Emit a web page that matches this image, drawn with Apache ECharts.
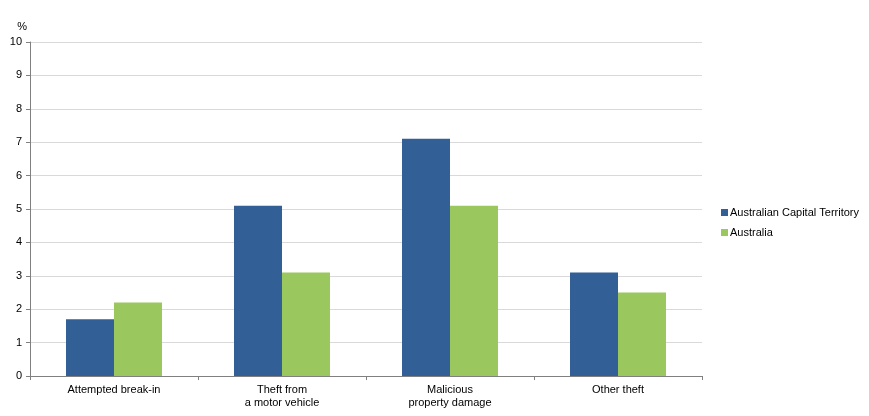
<!DOCTYPE html>
<html><head><meta charset="utf-8">
<script src="https://cdn.jsdelivr.net/npm/echarts@6/dist/echarts.min.js"></script>
<style>html,body{margin:0;padding:0;background:#fff}#c{width:869px;height:416px}</style>
</head><body><div id="c"></div>
<script>
const categories = ['Attempted break-in', 'Theft from\na motor vehicle', 'Malicious\nproperty damage', 'Other theft'];
const actValues = [1.7, 5.1, 7.1, 3.1];
const ausValues = [2.2, 3.1, 5.1, 2.5];
const seriesNames = ['Australian Capital Territory', 'Australia'];

const chart = echarts.init(document.getElementById('c'), null, {renderer: 'canvas'});
const font = 'Liberation Sans, Arial, sans-serif';
chart.setOption({
  animation: false,
  textStyle: {fontFamily: font},
  grid: {left: 30, right: 167, top: 42, bottom: 40, containLabel: false},
  legend: {
    orient: 'vertical', left: 716, top: 202, itemWidth: 7, itemHeight: 7, itemGap: 9,
    icon: 'rect',
    textStyle: {fontFamily: font, fontSize: 11, color: '#000', padding: [0, 0, 0, -3]},
    data: seriesNames
  },
  xAxis: {
    type: 'category', data: categories,
    axisLine: {lineStyle: {color: '#808080'}},
    axisTick: {show: true, alignWithLabel: false, length: 4, lineStyle: {color: '#808080'}},
    axisLabel: {fontFamily: font, fontSize: 11, color: '#000', margin: 7, lineHeight: 13},
  },
  yAxis: {
    type: 'value', min: 0, max: 10, interval: 1,
    name: '%', nameLocation: 'end', nameGap: 10,
    nameTextStyle: {fontFamily: font, fontSize: 11, color: '#000', align: 'right', padding: [0, 3, 0, 0]},
    axisLine: {show: true, lineStyle: {color: '#808080'}},
    axisTick: {show: true, length: 4, lineStyle: {color: '#808080'}},
    axisLabel: {fontFamily: font, fontSize: 11, color: '#000', margin: 8, padding: [3, 0, 0, 0]},
    splitLine: {lineStyle: {color: '#d9d9d9'}}
  },
  series: [
    {name: seriesNames[0], type: 'bar', data: actValues, barWidth: 48, barGap: '0%', itemStyle: {color: '#315F96'}},
    {name: seriesNames[1], type: 'bar', data: ausValues, barWidth: 48, barGap: '0%', itemStyle: {color: '#9AC85F'}}
  ]
});
</script></body></html>
